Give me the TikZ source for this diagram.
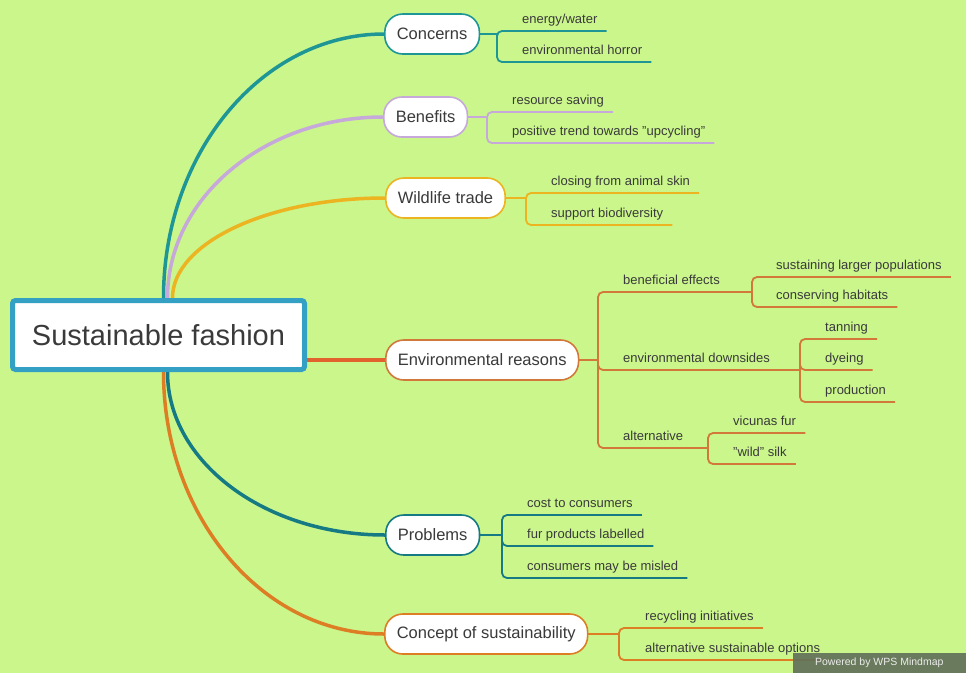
\documentclass[tikz,border=0pt]{standalone}
\usepackage{fontspec}
\setmainfont{Liberation Sans}
\usetikzlibrary{backgrounds}
\definecolor{bg}{RGB}{202,246,140}
\definecolor{txt}{RGB}{58,58,58}
\definecolor{rootblue}{RGB}{52,160,196}
\definecolor{cteal}{RGB}{30,150,150}
\definecolor{clilac}{RGB}{198,168,218}
\definecolor{cyellow}{RGB}{236,180,32}
\definecolor{cred}{RGB}{226,98,46}
\definecolor{cbrown}{RGB}{210,120,58}
\definecolor{cdteal}{RGB}{22,122,133}
\definecolor{corange}{RGB}{222,126,36}
\definecolor{wpsbox}{RGB}{98,112,88}
\tikzset{
  rootbox/.style={draw=rootblue, line width=5pt, fill=white, rounded corners=3pt,
    minimum width=292pt, minimum height=69pt, inner sep=0pt, text=txt,
    font=\fontsize{29}{32}\selectfont},
  pill/.style={draw=#1, line width=1.6pt, fill=white, rounded corners=18pt,
    minimum height=40pt, inner xsep=12pt, inner ysep=0pt, text=txt, anchor=west,
    font=\fontsize{16.5}{19}\selectfont},
  leaf/.style={anchor=base west, inner sep=0pt, text=txt, font=\fontsize{13}{15}\selectfont},
  mainline/.style={draw=#1, line width=3.5pt, line cap=round},
  subline/.style={draw=#1, line width=1.8pt, rounded corners=5pt},
  wps/.style={fill=wpsbox, fill opacity=0.92, text opacity=1, text=white!85!gray,
    minimum width=173pt, minimum height=20pt, inner sep=0pt, anchor=south east,
    font=\fontsize{10.5}{12}\selectfont}
}
\begin{document}
\begin{tikzpicture}[x=1pt,y=-1pt]
\useasboundingbox (0,0) rectangle (966,673);
% root and main nodes
\node[rootbox] (root) at (158.5,335) {Sustainable fashion};
\node[pill=cteal] (concerns) at (384,34) {Concerns};
\node[pill=clilac] (benefits) at (383,117) {Benefits};
\node[pill=cyellow] (wildlife) at (385,198) {Wildlife trade};
\node[pill=cbrown] (env) at (385,360) {Environmental reasons};
\node[pill=cdteal] (problems) at (385,535) {Problems};
\node[pill=corange] (concept) at (384,634) {Concept of sustainability};
% start points on the root
\coordinate (s1) at ([xshift=5pt]root.north);
\coordinate (s2) at ([xshift=9pt]root.north);
\coordinate (s3) at ([xshift=14pt]root.north);
\coordinate (s4) at ([xshift=9pt]root.south);
\coordinate (s5) at ([xshift=5pt]root.south);
\coordinate (s6) at (root.east |- env.west);
\begin{scope}[on background layer]
\fill[bg] (0,0) rectangle (966,673);
\draw[mainline=cteal] (s1) .. controls +(0,-145) and +(-122,0) .. (concerns.west);
\draw[mainline=clilac] (s2) .. controls +(0,-100) and +(-119,0) .. (benefits.west);
\draw[mainline=cyellow] (s3) .. controls +(0,-55) and +(-117,0) .. (wildlife.west);
\draw[mainline=cred, line width=4pt] (s6) -- (env.west);
\draw[mainline=cdteal] (s4) .. controls +(0,90) and +(-120,0) .. (problems.west);
\draw[mainline=corange] (s5) .. controls +(0,144) and +(-122,0) .. (concept.west);
\end{scope}
% junctions
\coordinate (cj) at (497,34);
\coordinate (bj) at (487,117);
\coordinate (wj) at (526,198);
\coordinate (ej) at (598,360);
\coordinate (bej) at (752,292);
\coordinate (edj) at (800,370);
\coordinate (alj) at (708,448);
\coordinate (pj) at (502,535);
\coordinate (kj) at (619,634);
% Concerns
\draw[subline=cteal] (concerns.east) -- (cj);
\node[leaf] (c1) at (522,23) {energy/water};
\node[leaf] (c2) at (522,54) {environmental horror};
\draw[subline=cteal] (cj) |- ([xshift=9pt,yshift=-8pt]c1.base east);
\draw[subline=cteal] (cj) |- ([xshift=9pt,yshift=-8pt]c2.base east);
% Benefits
\draw[subline=clilac] (benefits.east) -- (bj);
\node[leaf] (b1) at (512,104) {resource saving};
\node[leaf] (b2) at (512,135) {positive trend towards "upcycling"};
\draw[subline=clilac] (bj) |- ([xshift=9pt,yshift=-8pt]b1.base east);
\draw[subline=clilac] (bj) |- ([xshift=9pt,yshift=-8pt]b2.base east);
% Wildlife trade
\draw[subline=cyellow] (wildlife.east) -- (wj);
\node[leaf] (w1) at (551,185) {closing from animal skin};
\node[leaf] (w2) at (551,217) {support biodiversity};
\draw[subline=cyellow] (wj) |- ([xshift=9pt,yshift=-8pt]w1.base east);
\draw[subline=cyellow] (wj) |- ([xshift=9pt,yshift=-8pt]w2.base east);
% Environmental reasons
\draw[subline=cbrown] (env.east) -- (ej);
\node[leaf] (e1) at (623,284) {beneficial effects};
\node[leaf] (e2) at (623,362) {environmental downsides};
\node[leaf] (e3) at (623,440) {alternative};
\draw[subline=cbrown] (ej) |- (bej);
\draw[subline=cbrown] (ej) |- (edj);
\draw[subline=cbrown] (ej) |- (alj);
\node[leaf] (g1) at (776,269) {sustaining larger populations};
\node[leaf] (g2) at (776,299) {conserving habitats};
\draw[subline=cbrown] (bej) |- ([xshift=9pt,yshift=-8pt]g1.base east);
\draw[subline=cbrown] (bej) |- ([xshift=9pt,yshift=-8pt]g2.base east);
\node[leaf] (g3) at (825,331) {tanning};
\node[leaf] (g4) at (825,362) {dyeing};
\node[leaf] (g5) at (825,394) {production};
\draw[subline=cbrown] (edj) |- ([xshift=9pt,yshift=-8pt]g3.base east);
\draw[subline=cbrown] (edj) |- ([xshift=9pt,yshift=-8pt]g4.base east);
\draw[subline=cbrown] (edj) |- ([xshift=9pt,yshift=-8pt]g5.base east);
\node[leaf] (g6) at (733,425) {vicunas fur};
\node[leaf] (g7) at (733,456) {"wild" silk};
\draw[subline=cbrown] (alj) |- ([xshift=9pt,yshift=-8pt]g6.base east);
\draw[subline=cbrown] (alj) |- ([xshift=9pt,yshift=-8pt]g7.base east);
% Problems
\draw[subline=cdteal] (problems.east) -- (pj);
\node[leaf] (p1) at (527,507) {cost to consumers};
\node[leaf] (p2) at (527,538) {fur products labelled};
\node[leaf] (p3) at (527,570) {consumers may be misled};
\draw[subline=cdteal] (pj) |- ([xshift=9pt,yshift=-8pt]p1.base east);
\draw[subline=cdteal] (pj) |- ([xshift=9pt,yshift=-8pt]p2.base east);
\draw[subline=cdteal] (pj) |- ([xshift=9pt,yshift=-8pt]p3.base east);
% Concept of sustainability
\draw[subline=corange] (concept.east) -- (kj);
\node[leaf] (k1) at (645,620) {recycling initiatives};
\node[leaf] (k2) at (645,652) {alternative sustainable options};
\draw[subline=corange] (kj) |- ([xshift=9pt,yshift=-8pt]k1.base east);
\draw[subline=corange] (kj) |- ([xshift=9pt,yshift=-8pt]k2.base east);
% watermark
\node[wps] (wpsmark) at (966,673) {Powered by WPS Mindmap};
\end{tikzpicture}
\end{document}
